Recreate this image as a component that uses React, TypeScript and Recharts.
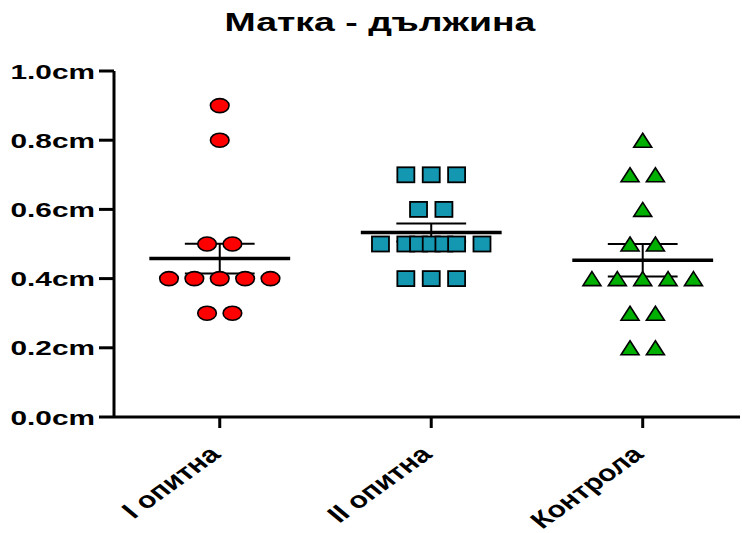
import React from 'react';
import { ScatterChart, Scatter, XAxis, YAxis, ReferenceLine } from 'recharts';

// Category names and y-axis ticks
const groups = ['I опитна', 'II опитна', 'Контрола'];
const yTicks = [0, 0.2, 0.4, 0.6, 0.8, 1.0];

// Individual measurements (cm) and their beeswarm column slot
const groupIValues = [0.9, 0.8, 0.5, 0.5, 0.4, 0.4, 0.4, 0.4, 0.4, 0.3, 0.3];
const groupISlots = [0, 0, -1, 1, -4, -2, 0, 2, 4, -1, 1];
const groupIIValues = [0.7, 0.7, 0.7, 0.6, 0.6, 0.5, 0.5, 0.5, 0.5, 0.5, 0.5, 0.5, 0.4, 0.4, 0.4];
const groupIISlots = [-2, 0, 2, -1, 1, -4, -2, -1, 0, 1, 2, 4, -2, 0, 2];
const controlValues = [0.8, 0.7, 0.7, 0.6, 0.5, 0.5, 0.4, 0.4, 0.4, 0.4, 0.4, 0.3, 0.3, 0.2, 0.2];
const controlSlots = [0, -1, 1, 0, -1, 1, -4, -2, 0, 2, 4, -1, 1, -1, 1];

// Group mean and standard error of the mean
const means = [0.458, 0.533, 0.453];
const sems = [0.043, 0.026, 0.047];

const SLOT = 0.06; // horizontal spacing of one beeswarm half-step, in category units
const MEAN_HALF = 0.333;
const CAP_HALF = 0.165;

const toPoints = (values: number[], slots: number[], center: number) =>
  values.map((v, i) => ({ x: center + slots[i] * SLOT, y: v }));

const dataI = toPoints(groupIValues, groupISlots, 1);
const dataII = toPoints(groupIIValues, groupIISlots, 2);
const dataC = toPoints(controlValues, controlSlots, 3);

const FONT = '"Liberation Sans", Arial, sans-serif';

const Circle = (p: any) => (
  <ellipse cx={p.cx} cy={p.cy} rx={9.3} ry={7} fill="#FF0000" stroke="#000" strokeWidth={1.6} />
);
const Square = (p: any) => (
  <rect x={p.cx - 8.5} y={p.cy - 7.5} width={17} height={15} fill="#1497B1" stroke="#000" strokeWidth={1.8} />
);
const Triangle = (p: any) => (
  <polygon
    points={`${p.cx},${p.cy - 7} ${p.cx + 9},${p.cy + 7} ${p.cx - 9},${p.cy + 7}`}
    fill="#00B000"
    stroke="#000"
    strokeWidth={1.6}
    strokeLinejoin="miter"
  />
);

const YTick = (p: any) => {
  const { x, y, payload } = p;
  return (
    <g transform={`translate(${x - 2},${y}) scale(1.42,1)`}>
      <text x={0} y={0} dy={7.5} textAnchor="end" fontFamily={FONT} fontWeight="bold" fontSize={21} fill="#000">
        {payload.value.toFixed(1)}cm
      </text>
    </g>
  );
};

const XTick = (p: any) => {
  const { x, y, payload } = p;
  const label = groups[Math.round(payload.value) - 1];
  return (
    <g transform={`translate(${x - 4},${y + 21}) scale(1.3,1) rotate(-43)`}>
      <text x={0} y={0} dy={7} textAnchor="end" fontFamily={FONT} fontWeight="bold" fontSize={23} fill="#000">
        {label}
      </text>
    </g>
  );
};

export default function App() {
  return (
    <div style={{ position: 'absolute', left: 0, top: 0, width: 742, height: 533, background: '#fff' }}>
      <svg width={742} height={60} style={{ position: 'absolute', left: 0, top: 0 }}>
        <g transform="translate(380,31) scale(1.44,1)">
          <text x={0} y={0} textAnchor="middle" fontFamily={FONT} fontWeight="bold" fontSize={26} fill="#000">
            Матка - дължина
          </text>
        </g>
      </svg>
      <div style={{ position: 'absolute', left: 0, top: 0 }}>
        <ScatterChart width={742} height={533} margin={{ top: 71, right: 2, bottom: 0, left: 0 }}>
          <XAxis
            type="number"
            dataKey="x"
            domain={[0.5, 3.46]}
            ticks={[1, 2, 3]}
            allowDataOverflow
            height={116}
            tickSize={11}
            axisLine={{ stroke: '#000', strokeWidth: 3 }}
            tickLine={{ stroke: '#000', strokeWidth: 3 }}
            tick={<XTick />}
            interval={0}
          />
          <YAxis
            type="number"
            dataKey="y"
            domain={[0, 1]}
            ticks={yTicks}
            width={114}
            tickSize={15}
            axisLine={{ stroke: '#000', strokeWidth: 3 }}
            tickLine={{ stroke: '#000', strokeWidth: 3 }}
            tick={<YTick />}
            interval={0}
          />
          <Scatter data={dataI} shape={<Circle />} isAnimationActive={false} />
          <Scatter data={dataII} shape={<Square />} isAnimationActive={false} />
          <Scatter data={dataC} shape={<Triangle />} isAnimationActive={false} />
          {means.map((m, i) => (
            <ReferenceLine
              key={`mean-${i}`}
              segment={[{ x: i + 1 - MEAN_HALF, y: m }, { x: i + 1 + MEAN_HALF, y: m }]}
              stroke="#000"
              strokeWidth={3.5}
            />
          ))}
          {means.map((m, i) => (
            <ReferenceLine
              key={`sem-v-${i}`}
              segment={[{ x: i + 1, y: m - sems[i] }, { x: i + 1, y: m + sems[i] }]}
              stroke="#000"
              strokeWidth={2}
            />
          ))}
          {means.map((m, i) => (
            <ReferenceLine
              key={`sem-top-${i}`}
              segment={[{ x: i + 1 - CAP_HALF, y: m + sems[i] }, { x: i + 1 + CAP_HALF, y: m + sems[i] }]}
              stroke="#000"
              strokeWidth={2}
            />
          ))}
          {means.map((m, i) => (
            <ReferenceLine
              key={`sem-bot-${i}`}
              segment={[{ x: i + 1 - CAP_HALF, y: m - sems[i] }, { x: i + 1 + CAP_HALF, y: m - sems[i] }]}
              stroke="#000"
              strokeWidth={2}
            />
          ))}
        </ScatterChart>
      </div>
    </div>
  );
}
